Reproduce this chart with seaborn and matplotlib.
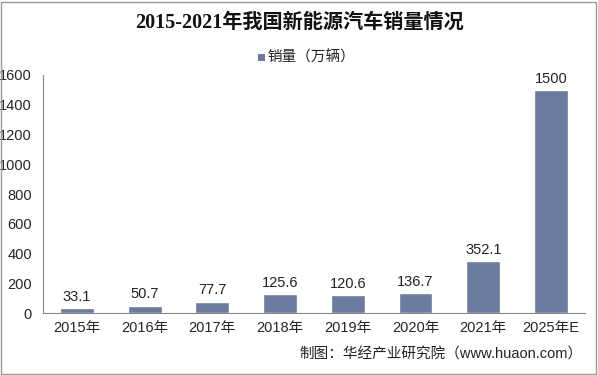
import pandas as pd
import seaborn as sns
import matplotlib.pyplot as plt
from matplotlib.patches import Rectangle

years = ["2015年", "2016年", "2017年", "2018年", "2019年", "2020年", "2021年", "2025年E"]
sales = [33.1, 50.7, 77.7, 125.6, 120.6, 136.7, 352.1, 1500]
value_labels = ["33.1", "50.7", "77.7", "125.6", "120.6", "136.7", "352.1", "1500"]
series_name = "销量（万辆）"

sns.set_style("white")
plt.rcParams["font.family"] = ["Liberation Sans", "Noto Sans CJK SC", "DejaVu Sans"]

data = pd.DataFrame({"year": years, "sales": sales})

fig = plt.figure(figsize=(5.98, 3.75), dpi=100)
ax = fig.add_axes([0.072, 0.165, 0.906, 0.635])

bar_color = "#6a7b9e"
sns.barplot(data, x="year", y="sales", color=bar_color, width=0.5,
            saturation=1, ax=ax)

for i, (v, lab) in enumerate(zip(sales, value_labels)):
    ax.text(i, v + 28, lab, ha="center", va="bottom", fontsize=10.5, color="#222222")

ax.set_ylim(0, 1600)
ax.set_yticks(range(0, 1601, 200))
ax.set_xlim(-0.5, len(years) - 0.5)
ax.set_xlabel(None)
ax.set_ylabel(None)
ax.tick_params(axis="y", labelsize=10.5, length=4, color="#888888", direction="out", pad=4)
ax.tick_params(axis="x", labelsize=10.5, length=0, pad=6)
ax.set_xticks(range(len(years)))
ax.set_xticklabels(years)
# category boundary ticks
ax.set_xticks([i - 0.5 for i in range(len(years) + 1)], minor=True)
ax.tick_params(axis="x", which="minor", length=4, color="#888888", direction="out")

for side in ["top", "right"]:
    ax.spines[side].set_visible(False)
for side in ["left", "bottom"]:
    ax.spines[side].set_color("#888888")
    ax.spines[side].set_linewidth(0.8)

fig.text(0.5, 0.94, "2015-2021年我国新能源汽车销量情况", ha="center", va="center",
         fontsize=14.5, fontweight="bold", color="#111111",
         family=["Liberation Serif", "Noto Sans CJK SC"])

# legend
fig.patches.append(Rectangle((0.432, 0.838), 0.011, 0.018, transform=fig.transFigure,
                             facecolor=bar_color, edgecolor="none"))
fig.text(0.447, 0.847, series_name, ha="left", va="center", fontsize=10.5, color="#222222")

fig.text(0.975, 0.055, "制图：华经产业研究院（www.huaon.com）", ha="right", va="center",
         fontsize=10.5, color="#222222")

fig.patches.append(Rectangle((0.002, 0.003), 0.995, 0.993, transform=fig.transFigure,
                             facecolor="none", edgecolor="#999999", linewidth=1))

plt.savefig("out.png", dpi=100)
